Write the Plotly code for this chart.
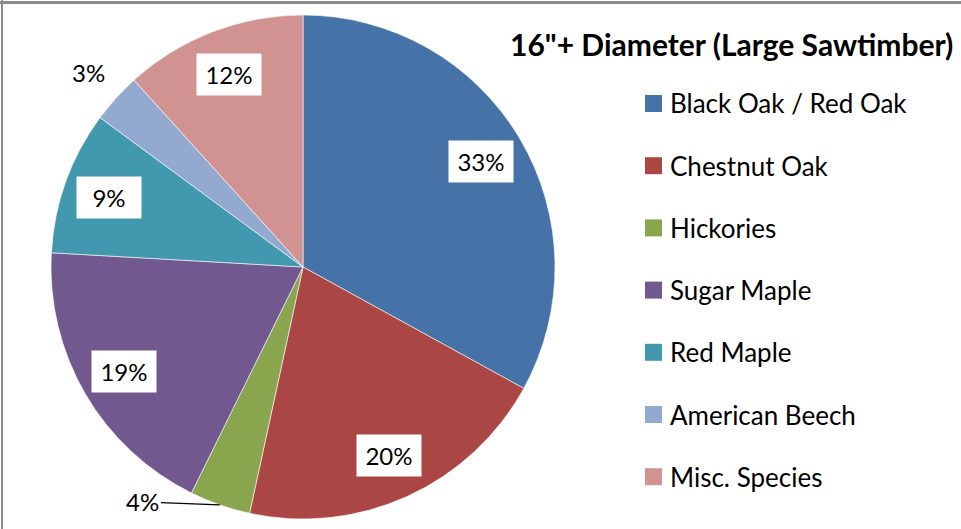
import math
import plotly.graph_objects as go

categories = ["Black Oak / Red Oak", "Chestnut Oak", "Hickories", "Sugar Maple",
              "Red Maple", "American Beech", "Misc. Species"]
values = [33.0, 20.4, 3.9, 18.6, 9.2, 3.2, 11.7]
colors = ["#4572A7", "#AA4643", "#89A54E", "#71588F", "#4198AF", "#93A9CF", "#D19392"]
title_text = "16\"+ Diameter (Large Sawtimber)"

W, H = 961, 529
CX, CY, R = 303, 267, 252
FONT = "Lato, 'Open Sans', sans-serif"

fig = go.Figure(go.Pie(
    labels=categories, values=values, sort=False, direction="clockwise", rotation=0,
    marker=dict(colors=colors, line=dict(color="white", width=0.6)),
    textinfo="none", hoverinfo="label+percent", showlegend=False,
    domain=dict(x=[(CX - R) / W, (CX + R) / W], y=[1 - (CY + R) / H, 1 - (CY - R) / H]),
))

def px2paper(x, y):
    return x / W, 1 - y / H

total = sum(values)
annotations = []
cum = 0.0
LBL = 24
for v in values:
    pct = round(v / total * 100)
    mid = (cum + v / 2) / total * 2 * math.pi
    cum += v
    frac = v / total
    if frac >= 0.05:
        r = 0.82 * R
        x = CX + r * math.sin(mid)
        y = CY - r * math.cos(mid)
        px, py = px2paper(x, y)
        annotations.append(dict(x=px, y=py, xref="paper", yref="paper", text=f"{pct}%",
                                xanchor="center", yanchor="middle",
                                showarrow=False, bgcolor="white", width=62, height=39,
                                font=dict(family=FONT, size=LBL, color="black")))
    elif pct == 4:
        x = CX + R * math.sin(mid)
        y = CY - R * math.cos(mid)
        px, py = px2paper(x, y)
        annotations.append(dict(x=px, y=py, xref="paper", yref="paper", text=f"{pct}%",
                                showarrow=True, arrowhead=0, arrowwidth=1.3, arrowcolor="black",
                                ax=-77, ay=-3, standoff=0,
                                font=dict(family=FONT, size=LBL, color="black")))
    else:
        r = 1.15 * R
        x = CX + r * math.sin(mid)
        y = CY - r * math.cos(mid)
        px, py = px2paper(x, y)
        annotations.append(dict(x=px, y=py, xref="paper", yref="paper", text=f"{pct}%",
                                xanchor="center", yanchor="middle",
                                showarrow=False, font=dict(family=FONT, size=LBL, color="black")))

# title
tx, ty = px2paper(731, 44)
annotations.append(dict(x=tx, y=ty, xref="paper", yref="paper", text=f"<b>{title_text}</b>",
                        xanchor="center", yanchor="middle",
                        showarrow=False, font=dict(family=FONT, size=30, color="black")))

# legend (manual)
shapes = []
row0, step = 103.5, 62.2
for i, (c, col) in enumerate(zip(categories, colors)):
    yc = row0 + i * step
    x0, y0 = px2paper(645, yc - 8.5)
    x1, y1 = px2paper(662, yc + 8.5)
    shapes.append(dict(type="rect", xref="paper", yref="paper", x0=x0, x1=x1, y0=y1, y1=y0,
                       fillcolor=col, line=dict(width=0)))
    lx, ly = px2paper(668, yc)
    annotations.append(dict(x=lx, y=ly, xref="paper", yref="paper", text=c, showarrow=False,
                            xanchor="left", yanchor="middle",
                            font=dict(family=FONT, size=26, color="black")))

# frame lines (top and left)
shapes.append(dict(type="line", xref="paper", yref="paper", x0=0, x1=1,
                   y0=1 - 2.5 / H, y1=1 - 2.5 / H, line=dict(color="#8c8c8c", width=3)))
shapes.append(dict(type="line", xref="paper", yref="paper", x0=2 / W, x1=2 / W,
                   y0=0, y1=1, line=dict(color="#8c8c8c", width=2)))

fig.update_layout(width=W, height=H, margin=dict(l=0, r=0, t=0, b=0),
                  paper_bgcolor="white", plot_bgcolor="white",
                  annotations=annotations, shapes=shapes)
fig.write_html("out.html", config={"displayModeBar": False},
               post_script="document.body.style.margin='0';document.body.style.overflow='hidden';")
